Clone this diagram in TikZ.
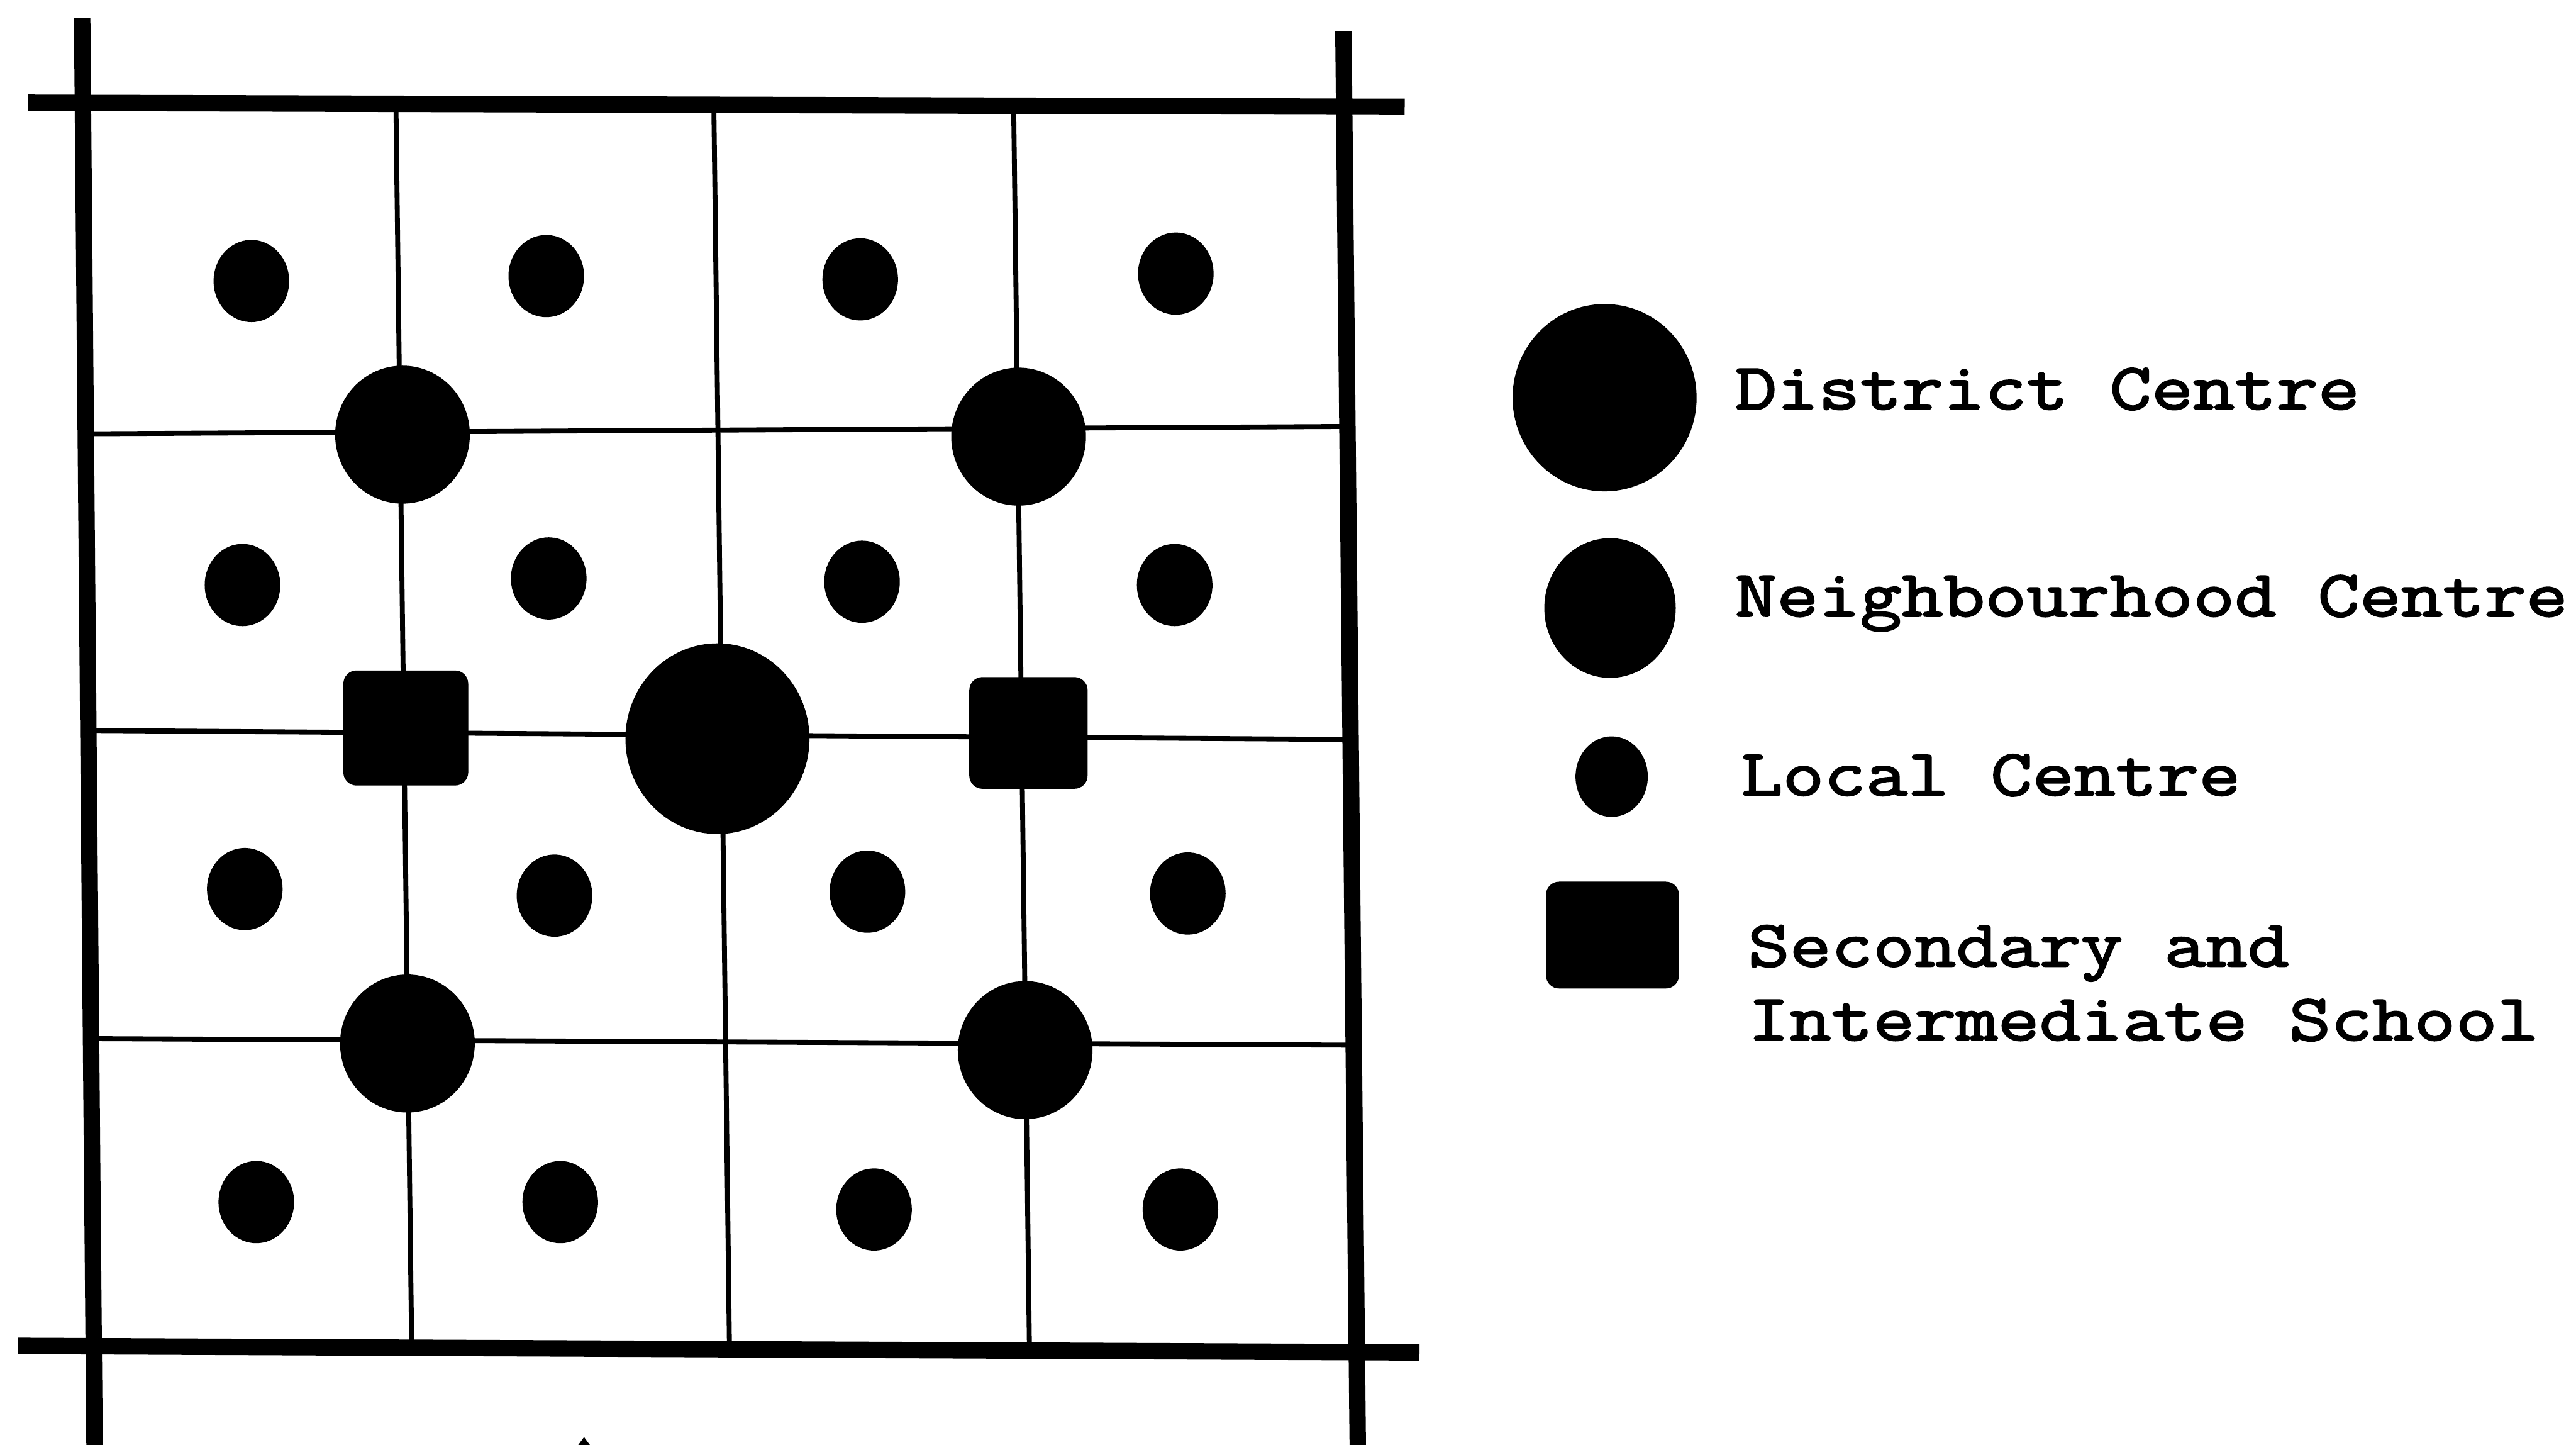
\documentclass[tikz,border=0pt]{standalone}
\usepackage{fontspec}
\newfontfamily\typew{Latin Modern Mono}[FakeStretch=1.23,FakeBold=2.5]
\usetikzlibrary{shapes.geometric}
\begin{document}
\begin{tikzpicture}[x=1pt,y=-1pt,
  frameline/.style={line width=10pt,black},
  gridline/.style={line width=3pt,black},
  localc/.style={ellipse,fill=black,inner sep=0pt,minimum width=46pt,minimum height=50pt},
  neighc/.style={ellipse,fill=black,inner sep=0pt,minimum width=82pt,minimum height=84pt},
  distc/.style={ellipse,fill=black,inner sep=0pt,minimum width=112pt,minimum height=116pt},
  school/.style={rectangle,rounded corners=8pt,fill=black,inner sep=0pt,minimum width=76pt,minimum height=70pt},
  legtext/.style={anchor=base west,inner sep=0pt,font=\typew\fontsize{40}{45.6}\selectfont}]
\useasboundingbox (0,0) rectangle (1568,879);
\fill[white] (0,0) rectangle (1568,879);

% frame
\coordinate (ltop) at (50,11);   \coordinate (lbot) at (57.6,885);
\coordinate (rtop) at (817.7,19); \coordinate (rbot) at (826.5,885);
\coordinate (ttl) at (17,62.5);   \coordinate (ttr) at (855,65);
\coordinate (bbl) at (11,819);    \coordinate (bbr) at (864,823);
\draw[frameline] (ltop) -- (lbot);
\draw[frameline] (rtop) -- (rbot);
\draw[frameline] (ttl) -- (ttr);
\draw[frameline] (bbl) -- (bbr);

% thin grid
\coordinate (v1t) at (241,64);  \coordinate (v1b) at (250.6,820);
\coordinate (v2t) at (434.5,64); \coordinate (v2b) at (444,820);
\coordinate (v3t) at (617,65);  \coordinate (v3b) at (626.6,821);
\coordinate (h1l) at (52,264);  \coordinate (h1r) at (822,259.5);
\coordinate (h2l) at (53,444.5); \coordinate (h2r) at (822,450);
\coordinate (h3l) at (54,632);  \coordinate (h3r) at (823,636);
\draw[gridline] (v1t) -- (v1b);
\draw[gridline] (v2t) -- (v2b);
\draw[gridline] (v3t) -- (v3b);
\draw[gridline] (h1l) -- (h1r);
\draw[gridline] (h2l) -- (h2r);
\draw[gridline] (h3l) -- (h3r);

% local centres
\node[localc] (l11) at (153,171) {};
\node[localc] (l12) at (332.5,168) {};
\node[localc] (l13) at (523.6,170) {};
\node[localc] (l14) at (715.7,166.5) {};
\node[localc] (l31) at (147.6,356) {};
\node[localc] (l32) at (334,352) {};
\node[localc] (l33) at (524.7,354) {};
\node[localc] (l34) at (715,356) {};
\node[localc] (l51) at (149,541) {};
\node[localc] (l52) at (337.5,545) {};
\node[localc] (l53) at (528,542.6) {};
\node[localc] (l54) at (723,543.7) {};
\node[localc] (l71) at (156,731.5) {};
\node[localc] (l72) at (341,731.5) {};
\node[localc] (l73) at (532,736) {};
\node[localc] (l74) at (718.5,736) {};

% neighbourhood centres
\node[neighc] (n1) at (245,264.5) {};
\node[neighc] (n2) at (620,265.7) {};
\node[neighc] (n3) at (248,635) {};
\node[neighc] (n4) at (624,639) {};

% district centre
\node[distc] (dc) at (436.7,449.5) {};

% schools
\node[school] (s1) at (247,443) {};
\node[school,minimum width=72pt,minimum height=68pt] (s2) at (626,446) {};

% cut-off mark at bottom
\fill[black] (350,882) -- (355.5,874.5) -- (361,882) -- cycle;

% legend
\node[distc,minimum width=112pt,minimum height=114pt] (kd) at (976.7,242) {};
\node[neighc,minimum width=80pt,minimum height=85pt] (kn) at (980,370) {};
\node[localc,minimum width=44pt,minimum height=49pt] (kl) at (981,472.6) {};
\node[school,minimum width=81pt,minimum height=65pt] (ks) at (981.5,569) {};

\node[legtext] (td) at (1056,249) {District Centre};
\node[legtext] (tn) at (1056,375) {Neighbourhood Centre};
\node[legtext] (tl) at (1059.5,484) {Local Centre};
\node[legtext] (ts1) at (1063.8,588) {Secondary and};
\node[legtext] (ts2) at (1063.8,633) {Intermediate School};
\end{tikzpicture}
\end{document}
